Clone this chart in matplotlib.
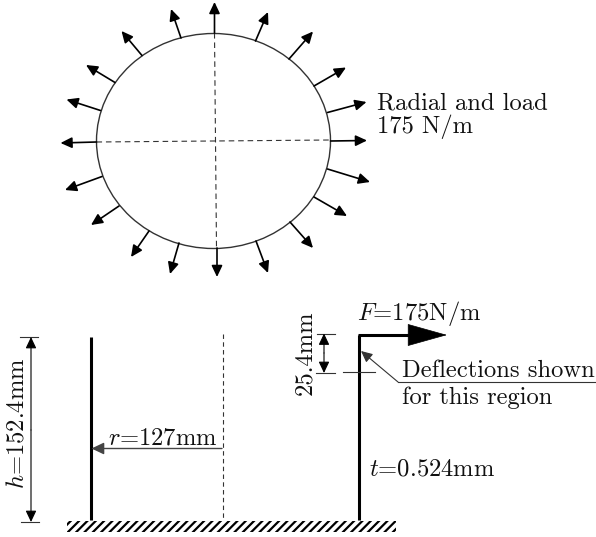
import matplotlib
matplotlib.use("Agg")
import matplotlib.pyplot as plt
from matplotlib.patches import Ellipse, Rectangle
import numpy as np

# Load arrows round the circle, picture pixels (base x, base y, tip x, tip y)
radial_arrows = [
    (214.5, 33, 214.5, 2),
    (181, 38, 171, 9),
    (142, 55.5, 121.5, 31),
    (115, 82.5, 86, 65),
    (100.5, 110.5, 66.5, 99.5),
    (96.5, 142, 60.5, 143),
    (102, 176.5, 65, 190),
    (119, 206, 91, 225),
    (149, 231, 131, 257),
    (179, 243, 170, 274),
    (217, 248, 217, 277),
    (256, 241, 268, 273),
    (290, 222, 313, 248),
    (314, 197, 347, 216),
    (327.5, 169, 370, 182),
    (330.5, 141, 367, 140.5),
    (327.5, 112.5, 366.5, 102),
    (314, 86, 346, 67.5),
    (289, 59, 313, 31.5),
    (255.5, 41, 268, 12),
]

circle_center = (213.5, 141)
circle_width = 234
circle_height = 215

# Texts: x, y, string, rotation
labels = [
    (377, 103, "Radial and load", 0),
    (377, 127, "175 N/m", 0),
    (108, 438, r"$r$=127mm", 0),
    (357, 313, r"$F$=175N/m", 0),
    (402, 371, "Deflections shown", 0),
    (402, 398, "for this region", 0),
    (369, 469, r"$t$=0.524mm", 0),
]
rot_labels = [
    (17, 423, r"$h$=152.4mm"),
    (305, 353, "25.4mm"),
]

plt.rcParams["font.family"] = "cmr10"
plt.rcParams["mathtext.fontset"] = "cm"
plt.rcParams["axes.unicode_minus"] = False
plt.rcParams["hatch.linewidth"] = 1.6

fig = plt.figure(figsize=(5.96, 5.37), dpi=100)
ax = fig.add_axes([0, 0, 1, 1])
ax.set_xlim(0, 596)
ax.set_ylim(537, 0)
ax.axis("off")


def arrow(x0, y0, x1, y1, lw=1.2, head=(0.38, 0.18), color="black", style="-|>"):
    ax.annotate("", xy=(x1, y1), xytext=(x0, y0),
                arrowprops=dict(arrowstyle=f"{style},head_length={head[0]},head_width={head[1]}",
                                lw=lw, color=color, shrinkA=0, shrinkB=0,
                                mutation_scale=18))


# circle part
ax.add_patch(Ellipse(circle_center, circle_width, circle_height, fill=False,
                     ec="#333333", lw=1.0))
ax.plot([96.5, 330], [142, 140], color="#333333", lw=0.8, ls=(0, (5, 3.5)))
ax.plot([214.5, 216.5], [33, 248], color="#333333", lw=0.8, ls=(0, (5, 3.5)))
for x0, y0, x1, y1 in radial_arrows:
    arrow(x0, y0, x1, y1)

# ground
ax.add_patch(Rectangle((67, 520.5), 329, 11.5, fill=False, lw=0, hatch="////", ec="black"))

# left section
ax.plot([90.5, 90.5], [337, 520], color="black", lw=2.2, solid_capstyle="butt")
ax.plot([222.5, 222.5], [334, 520], color="#333333", lw=0.8, ls=(0, (4, 3)))
arrow(222, 448.5, 91.5, 448.5, lw=1.0, color="#444444", head=(0.42, 0.2))
ax.plot([20, 38], [337, 337], color="#333333", lw=0.8)
ax.plot([21, 39], [522, 522], color="#333333", lw=0.8)
arrow(31, 430, 31, 337, lw=0.8)
arrow(31, 430, 31, 522, lw=0.8)

# right section
ax.plot([359, 359], [520, 335], color="black", lw=2.2, solid_capstyle="butt")
ax.plot([358, 421], [335, 335], color="black", lw=2.2, solid_capstyle="butt")
arrow(419, 335, 447, 335, lw=0.5, head=(1.5, 0.42))
ax.plot([317, 335], [333.5, 333.5], color="#333333", lw=0.8)
ax.plot([316, 335], [373, 373], color="#333333", lw=0.8)
arrow(324, 353, 324, 333.5, lw=0.8)
arrow(324, 353, 324, 373, lw=0.8)
ax.plot([343, 375], [371.5, 371.5], color="#333333", lw=0.8)
arrow(398, 382, 361, 351, lw=0.8, color="#333333")
ax.plot([398, 595], [382, 382], color="#333333", lw=0.8)

for x, y, s, rot in labels:
    ax.text(x, y, s, fontsize=17.7, ha="left", va="center", rotation=rot, color="#111111")
for x, y, s in rot_labels:
    ax.text(x, y, s, fontsize=17.7, ha="center", va="center", rotation=90, color="#111111")

plt.savefig("out.png", dpi=100)
plt.close()
